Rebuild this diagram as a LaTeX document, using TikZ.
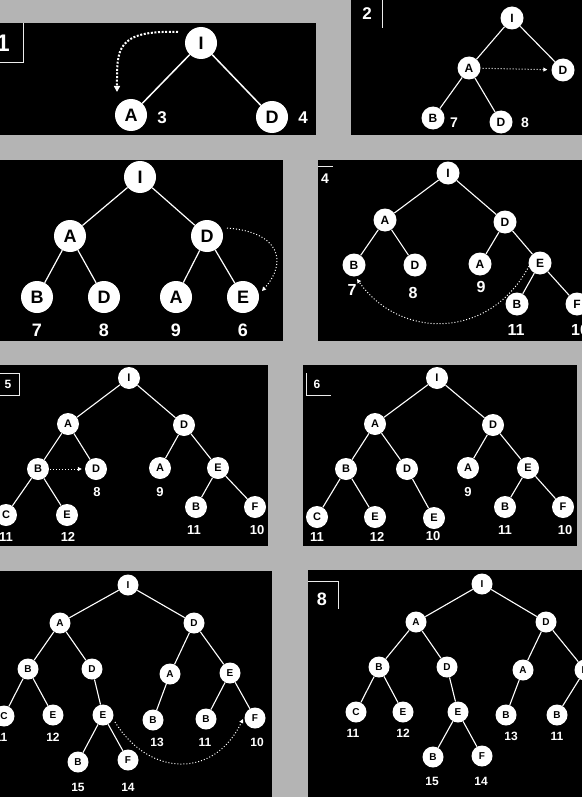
\documentclass[tikz,border=0pt]{standalone}
\usepackage{fontspec}
\setmainfont{Liberation Sans}
\usetikzlibrary{arrows.meta}

\definecolor{bggrey}{RGB}{180,180,180}

\tikzset{
    vtx/.style={circle, fill=white, text=black, inner sep=0pt},
    vbig/.style={vtx, minimum size=32pt, font=\bfseries\fontsize{18}{18}\selectfont},
    vmid/.style={vtx, minimum size=23pt, font=\bfseries\fontsize{12}{12}\selectfont},
    vsmall/.style={vtx, minimum size=22pt, font=\bfseries\fontsize{11}{11}\selectfont},
    vtiny/.style={vtx, minimum size=21pt, font=\bfseries\fontsize{10}{10}\selectfont},
    num/.style={text=white, inner sep=0pt, font=\bfseries\fontsize{#1}{#1}\selectfont},
    link/.style={white, line width=#1},
    link/.default=1.1pt,
    boxline/.style={white!85!gray, line width=0.7pt},
    trav/.style={white, dotted, line width=1pt, -{Triangle[length=4pt, width=4pt]}},
}

\begin{document}
\begin{tikzpicture}[x=1pt, y=-1pt]

    % Page and background
    \def\W{582}
    \def\H{797}
    \useasboundingbox (0,0) rectangle (\W,\H);
    \clip (0,0) rectangle (\W,\H);
    \fill[bggrey] (0,0) rectangle (\W,\H);

    % Black panels
    \fill[black] (  0, 23) rectangle (316,135); % 1
    \fill[black] (351,  0) rectangle (\W,135);  % 2
    \fill[black] (  0,160) rectangle (283,341); % 3
    \fill[black] (318,160) rectangle (\W,341);  % 4
    \fill[black] (  0,365) rectangle (268,546); % 5
    \fill[black] (303,365) rectangle (577,546); % 6
    \fill[black] (  0,571) rectangle (272,\H);  % 7
    \fill[black] (308,570) rectangle (\W,\H);   % 8

    % Panel 1
    \node[num=24] (t1) at (3,43) {1};
    \draw[boxline] (0,62) -- (23,62) -- (23,23);
    \node[vbig] (i1) at (201, 43) {I};
    \node[vbig] (a1) at (131,115) {A};
    \node[vbig] (d1) at (272,117) {D};
    \node[num=17] (n1a) at (162,118) {3};
    \node[num=17] (n1d) at (303,118) {4};
    \foreach \u/\v in {i1/a1, i1/d1}
        \draw[link=1.5pt] (\u) -- (\v);
    \coordinate (s1) at (178,32);
    \coordinate (e1) at (117,92);
    \draw[trav, line width=2pt, dash pattern=on 2pt off 1.6pt,
          -{Triangle[length=6pt, width=6pt]}] (s1) .. controls (115,30) and (117,50) .. (e1);

    % Panel 2
    \node[num=17] (t2) at (367,14) {2};
    \draw[boxline] (382,0) -- (382,28);
    \node[vmid] (i2)  at (512, 18) {I};
    \node[vmid] (a2)  at (469, 68) {A};
    \node[vmid] (d2)  at (563, 70) {D};
    \node[vmid] (b2)  at (433,118) {B};
    \node[vmid] (dd2) at (501,122) {D};
    \node[num=14] (n2d)  at (587, 72) {4};
    \node[num=14] (n2b)  at (454,123) {7};
    \node[num=14] (n2dd) at (525,123) {8};
    \foreach \u/\v in {i2/a2, i2/d2, a2/b2, a2/dd2}
        \draw[link] (\u) -- (\v);
    \draw[trav, shorten <=2pt, shorten >=4pt] (a2) -- (d2);

    % Panel 3
    \node[vbig] (i3)  at (140,177) {I};
    \node[vbig] (a3)  at ( 70,236) {A};
    \node[vbig] (d3)  at (207,236) {D};
    \node[vbig] (b3)  at ( 37,297) {B};
    \node[vbig] (dd3) at (104,297) {D};
    \node[vbig] (aa3) at (176,297) {A};
    \node[vbig] (e3)  at (243,297) {E};
    \node[num=18] (n3b)  at ( 37,330) {7};
    \node[num=18] (n3dd) at (104,330) {8};
    \node[num=18] (n3aa) at (176,330) {9};
    \node[num=18] (n3e)  at (243,330) {6};
    \foreach \u/\v in {i3/a3, i3/d3, a3/b3, a3/dd3, d3/aa3, d3/e3}
        \draw[link=1.2pt] (\u) -- (\v);
    \coordinate (s3) at (227,228);
    \coordinate (e3t) at (262,291);
    \draw[trav] (s3) .. controls (280,232) and (288,262) .. (e3t);

    % Panel 4
    \node[num=14] (t4) at (325,179) {4};
    \draw[boxline] (318,166) -- (333,166);
    \node[vmid] (i4)  at (448,173) {I};
    \node[vmid] (a4)  at (385,220) {A};
    \node[vmid] (d4)  at (505,222) {D};
    \node[vmid] (b4)  at (354,265) {B};
    \node[vmid] (dd4) at (415,265) {D};
    \node[vmid] (aa4) at (480,264) {A};
    \node[vmid] (e4)  at (540,263) {E};
    \node[vmid] (bb4) at (517,304) {B};
    \node[vmid] (f4)  at (577,304) {F};
    \node[num=16] (n4b)  at (352,290) {7};
    \node[num=16] (n4dd) at (413,293) {8};
    \node[num=16] (n4aa) at (481,287) {9};
    \node[num=16] (n4bb) at (516,330) {11};
    \node[num=16] (n4f)  at (580,330) {10};
    \foreach \u/\v in {i4/a4, i4/d4, a4/b4, a4/dd4, d4/aa4, d4/e4, e4/bb4, e4/f4}
        \draw[link] (\u) -- (\v);
    \coordinate (s4) at (529,266);
    \coordinate (e4t) at (357,279);
    \draw[trav] (s4) .. controls (490,340) and (400,340) .. (e4t);

    % Panel 5
    \node[num=12] (t5) at (8,384) {5};
    \draw[boxline] (0,373) -- (19,373) -- (19,395) -- (0,395);
    \node[vsmall] (i5)  at (129,378) {I};
    \node[vsmall] (a5)  at ( 68,424) {A};
    \node[vsmall] (d5)  at (184,425) {D};
    \node[vsmall] (b5)  at ( 38,469) {B};
    \node[vsmall] (dd5) at ( 96,469) {D};
    \node[vsmall] (aa5) at (160,468) {A};
    \node[vsmall] (e5)  at (218,468) {E};
    \node[vsmall] (c5)  at (  6,515) {C};
    \node[vsmall] (ee5) at ( 67,515) {E};
    \node[vsmall] (bb5) at (196,507) {B};
    \node[vsmall] (f5)  at (255,507) {F};
    \node[num=13] (n5dd) at ( 97,492) {8};
    \node[num=13] (n5aa) at (160,492) {9};
    \node[num=13] (n5c)  at (  6,537) {11};
    \node[num=13] (n5ee) at ( 68,537) {12};
    \node[num=13] (n5bb) at (194,530) {11};
    \node[num=13] (n5f)  at (257,530) {10};
    \foreach \u/\v in {i5/a5, i5/d5, a5/b5, a5/dd5, d5/aa5, d5/e5, b5/c5, b5/ee5, e5/bb5, e5/f5}
        \draw[link] (\u) -- (\v);
    \draw[trav, shorten <=1pt, shorten >=3pt] (b5) -- (dd5);

    % Panel 6
    \node[num=12] (t6) at (317,384) {6};
    \draw[boxline] (306,373) -- (306,395) -- (331,395);
    \node[vsmall] (i6)   at (437,378) {I};
    \node[vsmall] (a6)   at (375,424) {A};
    \node[vsmall] (d6)   at (493,425) {D};
    \node[vsmall] (b6)   at (346,469) {B};
    \node[vsmall] (dd6)  at (407,469) {D};
    \node[vsmall] (aa6)  at (468,468) {A};
    \node[vsmall] (e6)   at (528,468) {E};
    \node[vsmall] (c6)   at (317,517) {C};
    \node[vsmall] (ee6)  at (375,517) {E};
    \node[vsmall] (eee6) at (434,518) {E};
    \node[vsmall] (bb6)  at (505,507) {B};
    \node[vsmall] (f6)   at (563,507) {F};
    \node[num=13] (n6aa)  at (468,492) {9};
    \node[num=13] (n6c)   at (317,537) {11};
    \node[num=13] (n6ee)  at (377,537) {12};
    \node[num=13] (n6eee) at (433,536) {10};
    \node[num=13] (n6bb)  at (505,530) {11};
    \node[num=13] (n6f)   at (565,530) {10};
    \foreach \u/\v in {i6/a6, i6/d6, a6/b6, a6/dd6, d6/aa6, d6/e6, b6/c6, b6/ee6, dd6/eee6, e6/bb6, e6/f6}
        \draw[link] (\u) -- (\v);

    % Panel 7
    \node[vtiny] (i7)   at (128,585) {I};
    \node[vtiny] (a7)   at ( 60,623) {A};
    \node[vtiny] (d7)   at (194,623) {D};
    \node[vtiny] (b7)   at ( 28,669) {B};
    \node[vtiny] (dd7)  at ( 92,669) {D};
    \node[vtiny] (aa7)  at (170,674) {A};
    \node[vtiny] (e7)   at (230,673) {E};
    \node[vtiny] (c7)   at (  4,716) {C};
    \node[vtiny] (ee7)  at ( 53,715) {E};
    \node[vtiny] (eee7) at (103,715) {E};
    \node[vtiny] (bb7)  at (153,720) {B};
    \node[vtiny] (bbb7) at (206,719) {B};
    \node[vtiny] (f7)   at (255,718) {F};
    \node[vtiny] (bx7)  at ( 78,762) {B};
    \node[vtiny] (fx7)  at (128,760) {F};
    \node[num=12] (n7c)   at (  1,737) {11};
    \node[num=12] (n7ee)  at ( 53,737) {12};
    \node[num=12] (n7bb)  at (157,742) {13};
    \node[num=12] (n7bbb) at (205,742) {11};
    \node[num=12] (n7f)   at (257,742) {10};
    \node[num=12] (n7bx)  at ( 78,787) {15};
    \node[num=12] (n7fx)  at (128,787) {14};
    \foreach \u/\v in {i7/a7, i7/d7, a7/b7, a7/dd7, d7/aa7, d7/e7, b7/c7, b7/ee7, dd7/eee7,
                       aa7/bb7, e7/bbb7, e7/f7, eee7/bx7, eee7/fx7}
        \draw[link] (\u) -- (\v);
    \coordinate (s7) at (115,722);
    \coordinate (e7t) at (243,719);
    \draw[trav] (s7) .. controls (150,778) and (215,778) .. (e7t);

    % Panel 8
    \node[num=18] (t8) at (322,599) {8};
    \draw[boxline] (308,581) -- (338,581) -- (338,609);
    \node[vtiny] (i8)   at (482,584) {I};
    \node[vtiny] (a8)   at (416,622) {A};
    \node[vtiny] (d8)   at (546,622) {D};
    \node[vtiny] (b8)   at (379,667) {B};
    \node[vtiny] (dd8)  at (447,667) {D};
    \node[vtiny] (aa8)  at (523,670) {A};
    \node[vtiny] (e8)   at (585,670) {E};
    \node[vtiny] (c8)   at (356,712) {C};
    \node[vtiny] (ee8)  at (403,712) {E};
    \node[vtiny] (eee8) at (458,712) {E};
    \node[vtiny] (bb8)  at (506,715) {B};
    \node[vtiny] (bbb8) at (557,715) {B};
    \node[vtiny] (bx8)  at (433,757) {B};
    \node[vtiny] (fx8)  at (482,756) {F};
    \node[num=12] (n8c)   at (353,733) {11};
    \node[num=12] (n8ee)  at (403,733) {12};
    \node[num=12] (n8bb)  at (511,736) {13};
    \node[num=12] (n8bbb) at (557,736) {11};
    \node[num=12] (n8bx)  at (432,781) {15};
    \node[num=12] (n8fx)  at (481,781) {14};
    \foreach \u/\v in {i8/a8, i8/d8, a8/b8, a8/dd8, d8/aa8, d8/e8, b8/c8, b8/ee8, dd8/eee8,
                       aa8/bb8, e8/bbb8, eee8/bx8, eee8/fx8}
        \draw[link] (\u) -- (\v);

\end{tikzpicture}
\end{document}
